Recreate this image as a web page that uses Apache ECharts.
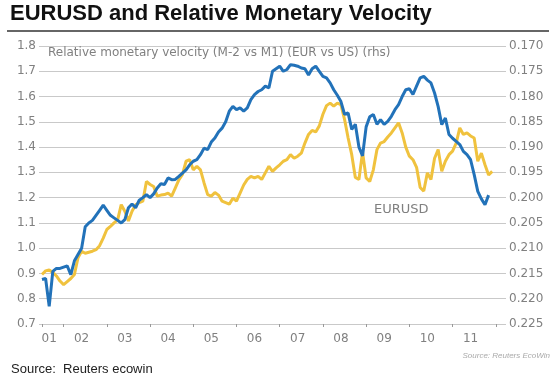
<!DOCTYPE html>
<html><head><meta charset="utf-8">
<script src="https://cdn.jsdelivr.net/npm/echarts@6/dist/echarts.min.js"></script>
<style>html,body{margin:0;padding:0;background:#fff}#c{width:560px;height:385px}</style>
</head><body><div id="c"></div>
<script>
// Monthly points from Jul 2001 to Mar 2012
const startYear = 2001, startMonth = 7, monthCount = 129;
const months = [];
for (let k = 0; k < monthCount; k++) {
  const m = startMonth - 1 + k;
  const y = startYear + Math.floor(m / 12);
  const mm = (m % 12) + 1;
  months.push(y + '-' + (mm < 10 ? '0' + mm : mm));
}
const yearLabels = ['01','02','03','04','05','06','07','08','09','10','11'];
const leftTicks = ['0.7','0.8','0.9','1.0','1.1','1.2','1.3','1.4','1.5','1.6','1.7','1.8'];
const rightTicks = ['0.170','0.175','0.180','0.185','0.190','0.195','0.200','0.205','0.210','0.215','0.220','0.225'];

// EURUSD (left axis)
const eurusd = [
0.876,0.88,0.77,0.908,0.92,0.92,0.925,0.93,0.895,0.95,
0.975,1.0,1.085,1.10,1.11,1.13,1.15,1.17,1.15,1.13,
1.12,1.11,1.10,1.113,1.16,1.175,1.16,1.19,1.20,1.212,
1.20,1.215,1.238,1.255,1.252,1.278,1.271,1.272,1.284,1.297,
1.31,1.33,1.344,1.35,1.37,1.396,1.39,1.42,1.436,1.46,
1.475,1.50,1.542,1.561,1.548,1.555,1.542,1.555,1.588,1.608,
1.62,1.627,1.641,1.634,1.70,1.71,1.72,1.70,1.707,1.726,
1.724,1.72,1.713,1.71,1.685,1.71,1.72,1.70,1.68,1.674,
1.654,1.627,1.605,1.58,1.53,1.535,1.47,1.49,1.40,1.365,
1.48,1.52,1.529,1.49,1.509,1.49,1.502,1.522,1.548,1.568,
1.60,1.627,1.631,1.608,1.641,1.674,1.68,1.665,1.654,1.614,
1.56,1.489,1.515,1.45,1.435,1.423,1.41,1.383,1.37,1.35,
1.291,1.225,1.195,1.172,1.21
];

// Relative monetary velocity (right axis, inverted)
const velocity = [
0.2152,0.2145,0.2143,0.2148,0.2155,0.2165,0.2172,0.2166,0.2160,0.2152,
0.2119,0.2106,0.2110,0.2108,0.2106,0.2103,0.2095,0.2080,0.2063,0.2057,
0.2050,0.2044,0.2014,0.2027,0.2046,0.2027,0.2014,0.2010,0.2007,0.1968,
0.1974,0.1978,0.1997,0.1995,0.1994,0.1991,0.1997,0.1981,0.1965,0.1954,
0.1928,0.1925,0.1945,0.1938,0.1945,0.1971,0.1994,0.1997,0.1990,0.1995,
0.2007,0.2010,0.2013,0.2001,0.2007,0.1991,0.1975,0.1964,0.1958,0.1961,
0.1958,0.1964,0.1951,0.1938,0.1948,0.1941,0.1935,0.1928,0.1925,0.1915,
0.1922,0.1918,0.1912,0.1892,0.1875,0.1867,0.1870,0.1858,0.1835,0.1818,
0.1813,0.1819,0.1813,0.1816,0.1845,0.1882,0.1915,0.1960,0.1964,0.1910,
0.1961,0.1968,0.1945,0.1905,0.1892,0.1889,0.1880,0.1872,0.1862,0.1852,
0.1872,0.1900,0.1918,0.1925,0.1940,0.1980,0.1987,0.1951,0.1964,0.1922,
0.1905,0.1948,0.1928,0.1915,0.1908,0.1892,0.1862,0.1875,0.1872,0.1878,
0.1882,0.1928,0.1912,0.1935,0.1955,0.1948
];

const gridColor = '#c9c9c9';
const labelColor = '#808080';
const chartFont = 'DejaVu Sans';

const chart = echarts.init(document.getElementById('c'), null, {renderer: 'canvas'});
chart.setOption({
  animation: false,
  backgroundColor: '#fff',
  grid: {left: 42, right: 57, top: 46, bottom: 61, containLabel: false},
  xAxis: {
    type: 'category', data: months, boundaryGap: false,
    axisLine: {show: true, lineStyle: {color: gridColor, width: 1}},
    axisTick: {show: true, length: 3, lineStyle: {color: '#999'},
      interval: function (i, v) { return i === 0 || (v.slice(5) === '01'); }},
    axisLabel: {show: true, color: labelColor, fontFamily: chartFont, fontSize: 12, margin: 9,
      interval: function (i, v) { return i === 2 || (v.slice(5) === '06' && +v.slice(0,4) >= 2002 && +v.slice(0,4) <= 2011); },
      formatter: function (v) { return yearLabels[+v.slice(0,4) - 2001]; }},
    splitLine: {show: false}
  },
  yAxis: [
    {type: 'value', position: 'left', min: 0.7, max: 1.8, interval: 0.1,
      axisLine: {show: false},
      axisTick: {show: true, length: 3, lineStyle: {color: gridColor}},
      axisLabel: {color: labelColor, fontFamily: chartFont, fontSize: 12, margin: 6,
        formatter: function (v) { return leftTicks[Math.round((v - 0.7) * 10)]; }},
      splitLine: {show: true, lineStyle: {color: gridColor, width: 1}}},
    {type: 'value', position: 'right', min: 0.17, max: 0.225, interval: 0.005, inverse: true,
      axisLine: {show: false},
      axisTick: {show: true, length: 3, lineStyle: {color: gridColor}},
      axisLabel: {color: labelColor, fontFamily: chartFont, fontSize: 12, margin: 6,
        formatter: function (v) { return rightTicks[Math.round((v - 0.17) * 200)]; }},
      splitLine: {show: false}}
  ],
  series: [
    {name: 'Relative monetary velocity', type: 'line', yAxisIndex: 1, data: velocity,
      symbol: 'none', lineStyle: {color: '#f0c23e', width: 3}, z: 2},
    {name: 'EURUSD', type: 'line', yAxisIndex: 0, data: eurusd,
      symbol: 'none', lineStyle: {color: '#2272b9', width: 3}, z: 3}
  ],
  graphic: [
    {type: 'text', left: 10, top: 3, style: {text: 'EURUSD and Relative Monetary Velocity',
      font: 'bold 22px "Liberation Sans", Arial, sans-serif', fill: '#111'}},
    {type: 'line', shape: {x1: 7, y1: 31, x2: 549, y2: 31}, style: {stroke: '#666', lineWidth: 2}},
    {type: 'text', left: 48, top: 47, z: 10, style: {text: 'Relative monetary velocity (M-2 vs M1) (EUR vs US) (rhs)',
      font: '12px "DejaVu Sans", sans-serif', fill: '#808080'}},
    {type: 'text', left: 374, top: 203, z: 10, style: {text: 'EURUSD',
      font: '13px "DejaVu Sans", sans-serif', fill: '#808080'}},
    {type: 'text', right: 10, top: 352, style: {text: 'Source: Reuters EcoWin',
      font: 'italic 8px "Liberation Sans", Arial, sans-serif', fill: '#aaa'}},
    {type: 'text', left: 11, top: 363, style: {text: 'Source:  Reuters ecowin',
      font: '13px "Liberation Sans", Arial, sans-serif', fill: '#222'}}
  ]
});
</script>
</body></html>
